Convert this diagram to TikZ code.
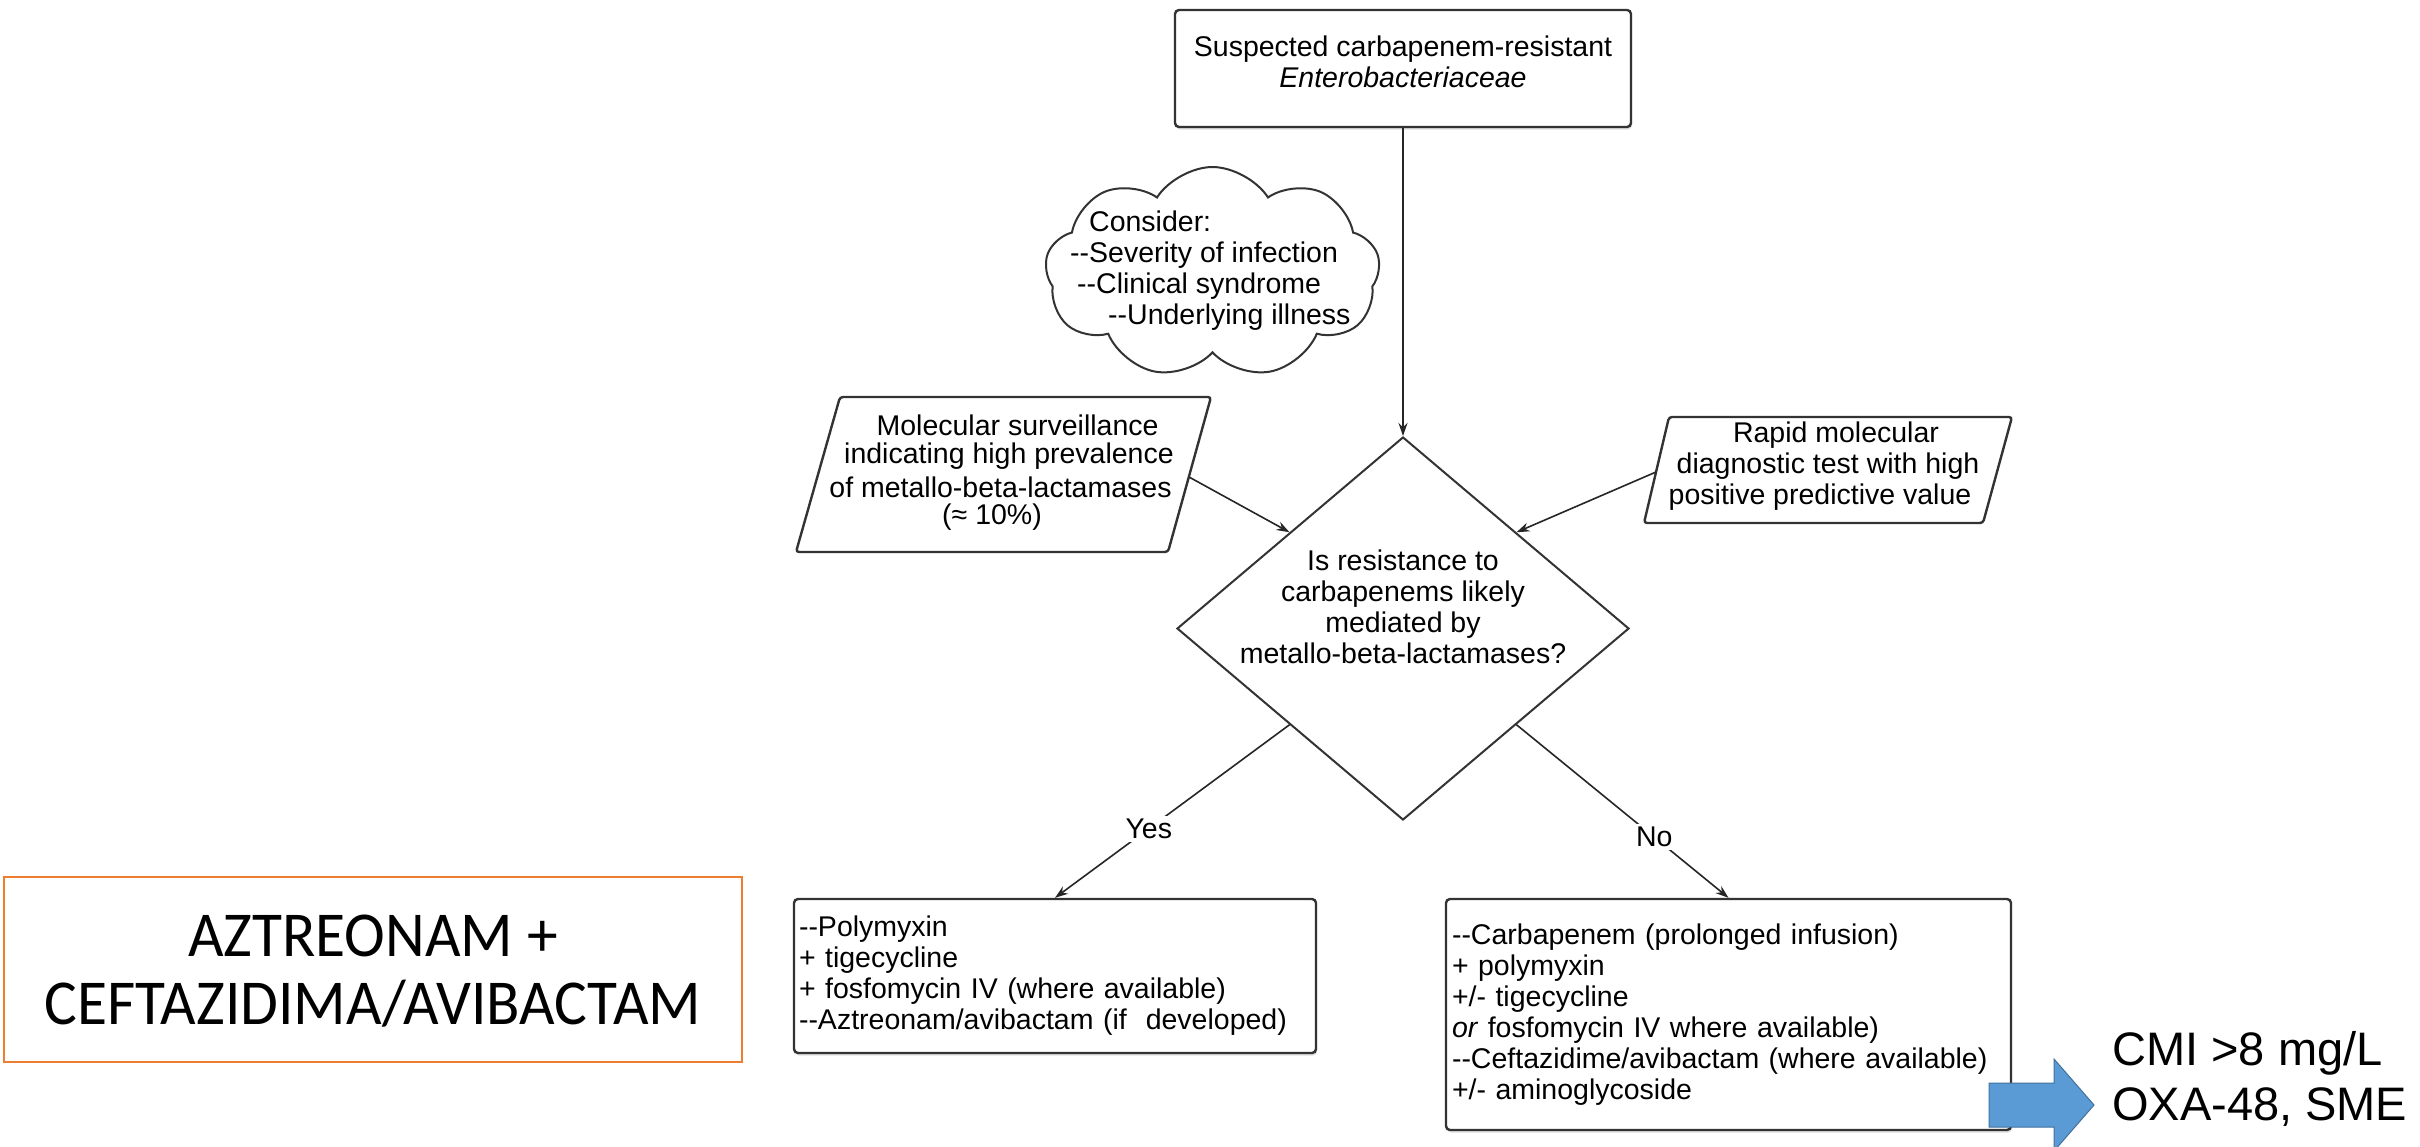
\documentclass[tikz,border=0pt]{standalone}
\usepackage{fontspec}
\setmainfont{Liberation Sans}
\newfontfamily\calibrifont{Carlito}[FakeStretch=0.96]
\usetikzlibrary{shapes.geometric,shapes.symbols,arrows.meta,shadows}
\definecolor{boxc}{HTML}{333333}
\definecolor{orangec}{HTML}{ED7D31}
\definecolor{bluef}{HTML}{5B9BD5}
\definecolor{blued}{HTML}{41719C}
\newcommand\flowfont{\fontsize{28.5pt}{31pt}\selectfont}
\newcommand\dbl{-\kern0pt-}
\begin{document}
\begin{tikzpicture}[x=1pt,y=-1pt,font=\flowfont,
  box/.style={draw=boxc, line width=2.4pt, rounded corners=4pt, fill=white,
    drop shadow={shadow xshift=1pt, shadow yshift=-2.5pt, opacity=0.25}},
  para/.style={draw=boxc, line width=2.4pt, rounded corners=3pt, fill=white},
  arr/.style={draw=black!85, line width=1.6pt, -{Stealth[length=13pt,width=9pt]}},
  lbl/.style={fill=white, inner sep=3pt},
  pline/.style={inner sep=0}]
\fill[white] (0,0) rectangle (2420,1146);
\useasboundingbox (0,0) rectangle (2420,1146);
\clip (0,0) rectangle (2420,1146);

% top box
\node[box, minimum width=456pt, minimum height=117pt, inner sep=0] (top) at (1403,68.5) {};
\node[align=center, inner sep=0] (toptext) at (1403,62)
  {Suspected carbapenem-resistant\\ \textit{Enterobacteriaceae}};

% cloud
\node[cloud, draw=boxc, line width=2pt, cloud puffs=9, cloud puff arc=115, aspect=1.6,
  minimum width=335pt, minimum height=211pt, inner sep=0] (cl) at (1212.5,272.5) {};
\node[anchor=west, inner sep=0, align=left] (cltext) at (1070,271)
  {\hspace*{19pt}Consider:\\\dbl Severity of infection\\\hspace*{7pt}\dbl Clinical syndrome\\\hspace*{38pt}\dbl Underlying illness};

% diamond
\node[diamond, draw=boxc, line width=2pt, minimum width=452pt, minimum height=383pt, inner sep=0] (dia) at (1403,628.5) {};
\node[align=center, inner sep=0] (q) at (1403,606.5)
  {Is resistance to\\carbapenems likely\\mediated by\\metallo-beta-lactamases?};

% left parallelogram
\draw[para] (796,552) -- (840,397) -- (1211,397) -- (1168,552) -- cycle;
\node[pline] (l1) at (1017.6,425) {Molecular surveillance};
\node[pline] (l2) at (1009,456) {indicating high prevalence};
\node[pline] (l3) at (1000.5,487) {of metallo-beta-lactamases};
\node[pline] (l4) at (992,517) {(≈ 10\%)};
\coordinate (lp) at (1189,477);

% right parallelogram
\draw[para] (1644,523) -- (1669,417) -- (2012,417) -- (1983,523) -- cycle;
\node[pline] (r1) at (1836,435) {Rapid molecular};
\node[pline] (r2) at (1828,466) {diagnostic test with high};
\node[pline] (r3) at (1820,497) {positive predictive value};
\coordinate (rp) at (1656,472);

% yes box
\node[box, minimum height=154pt, text width=512pt, inner xsep=5pt, inner ysep=0, align=left] (yes) at (1055,976)
  {\dbl Polymyxin\\+ tigecycline\\+ fosfomycin IV (where available)\\\dbl Aztreonam/avibactam (if\ \ developed)};

% no box
\node[box, minimum height=231pt, text width=553pt, inner xsep=6pt, inner ysep=0, align=left] (no) at (1728.5,1014.5)
  {\dbl Carbapenem (prolonged infusion)\\+ polymyxin\\+/- tigecycline\\\textit{or} fosfomycin IV where available)\\\dbl Ceftazidime/avibactam (where available)\\+/- aminoglycoside};

% orange box
\node[draw=orangec, line width=2.5pt, minimum width=738pt, minimum height=185pt, inner sep=0] (az) at (373,969.5) {};
\node[align=center, inner sep=0, font=\calibrifont\fontsize{64pt}{68pt}\selectfont] (aztext) at (373,971.5)
  {AZTREONAM +\\CEFTAZIDIMA/AVIBACTAM};

% connectors
\draw[arr] (top.south) -- (dia.north);
\draw[arr] (lp) -- (dia.north west);
\draw[arr] (rp) -- (dia.north east);
\draw[arr] (dia.south west) -- node[lbl, pos=0.6] {Yes} (yes.north);
\draw[arr] (dia.south east) -- node[lbl, pos=0.65] {No} (no.north);

% blue arrow and note
\filldraw[fill=bluef, draw=blued, line width=1pt] (1989,1083) -- (2054,1083) -- (2054,1059) -- (2094,1105)
  -- (2054,1151) -- (2054,1127) -- (1989,1127) -- cycle;
\node[anchor=west, inner sep=0, align=left, font=\fontsize{47pt}{55pt}\selectfont] (cmi) at (2112,1079)
  {CMI >8 mg/L\\OXA-48, SME};
\end{tikzpicture}
\end{document}
